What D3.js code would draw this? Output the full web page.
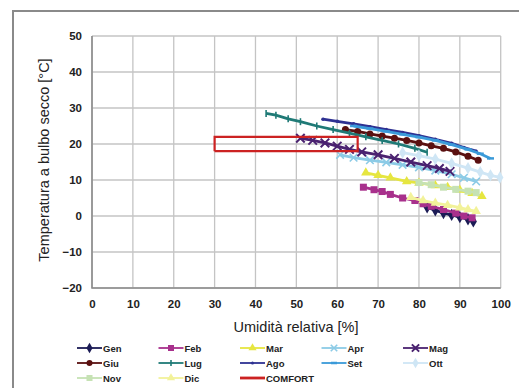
<!DOCTYPE html>
<html>
<head>
<meta charset="utf-8">
<script src="https://cdn.jsdelivr.net/npm/d3@7"></script>
<style>
  body { margin: 0; background: #fff; }
  svg { display: block; font-family: Arial, "Liberation Sans", sans-serif; }
</style>
</head>
<body>
<svg id="chart" width="519" height="388"></svg>
<script>
// values: [umidità %, temperatura °C]
const gen = [[82, 2.4], [84, 1.6], [86, 0.8], [88, 0.3], [90, -0.3], [92, -0.9], [93.3, -1.5]];
const feb = [[66.4, 8], [69, 7.3], [71, 6.8], [73, 6], [76, 5], [79, 4.3], [81, 3.4], [83, 2.7], [86, 1.8], [89, 0.8], [91, 0], [93, -0.5]];
const mar = [[67, 12], [70, 11.3], [73, 10.6], [77, 9.6], [80, 9.2], [84, 8.5], [87, 8], [90, 7.2], [93, 6.3], [95.4, 5.5]];
const apr = [[60.7, 17], [64, 16.2], [68, 15.5], [72, 14.9], [76, 14.2], [80, 13.5], [84, 12.6], [88, 11.6], [91, 10.6], [94, 9.6]];
const mag = [[51, 21.6], [54, 21], [57, 20.3], [60, 19.4], [63, 18.5], [66, 17.8], [70, 17], [74, 16], [78, 15], [82, 14], [85, 13.2], [87.6, 12.4]];
const giu = [[62, 24], [65, 23.5], [68, 22.8], [71, 22.2], [74, 21.6], [77, 21], [80, 20.3], [83, 19.5], [86, 18.8], [89, 17.8], [92, 16.6], [94.5, 15.5]];
const lug = [[42.6, 28.5], [45, 28], [48, 27], [51, 26.2], [55, 25], [59, 24], [63, 23], [67, 22], [71, 21], [75, 20], [79, 18.8], [82, 17.7]];
const ago = [[56.5, 26.9], [60, 26.3], [64, 25.6], [68, 24.8], [72, 24], [76, 23.2], [80, 22.3], [84, 21.3], [88, 20.2], [91, 19], [94, 18]];
const set = [[64, 25], [68, 24.3], [72, 23.5], [76, 22.7], [80, 21.9], [84, 21], [88, 19.8], [92, 18.5], [95, 17.3], [97.5, 16]];
const ott = [[76, 17.6], [80, 16.8], [84, 15.8], [88, 14.6], [92, 13.3], [95, 12.2], [97.5, 11.3], [99.8, 10.7]];
const nov = [[80, 9.3], [83, 8.7], [86, 8], [89, 7.4], [92, 6.9], [94, 6.5]];
const dic = [[78, 5.2], [81, 4.3], [84, 3.6], [87, 3], [90, 2.3], [92, 1.8], [94, 1.3]];
const comfort = [[30, 18], [65, 18], [65, 22], [30, 22], [30, 18]];

const monthNames = ["Gen", "Feb", "Mar", "Apr", "Mag", "Giu", "Lug", "Ago", "Set", "Ott", "Nov", "Dic"];
const monthData = [gen, feb, mar, apr, mag, giu, lug, ago, set, ott, nov, dic];
const monthColors = ["#1b1b55", "#a8308c", "#e6e640", "#8ccbe6", "#4a2270", "#5a1010", "#1f7a76", "#2e3192", "#3a9ad9", "#cfe6f5", "#c6e2b4", "#f2f29a"];
const monthMarkers = ["diamond", "square", "triangle", "x", "star", "circle", "plus", "dot", "dash", "diamond", "square", "triangle"];

const xTicks = [0, 10, 20, 30, 40, 50, 60, 70, 80, 90, 100];
const yTicks = [-20, -10, 0, 10, 20, 30, 40, 50];

const svg = d3.select("#chart");

// outer frame
svg.append("path")
  .attr("d", "M13,388 L13,11 L519,11")
  .attr("fill", "none")
  .attr("stroke", "#8a8a8a")
  .attr("stroke-width", 2);

const x = d3.scaleLinear().domain([0, 100]).range([92, 500.7]);
const y = d3.scaleLinear().domain([-20, 50]).range([288, 36]);

// grid
svg.append("g")
  .selectAll("line")
  .data(xTicks)
  .join("line")
  .attr("x1", (d) => x(d)).attr("x2", (d) => x(d))
  .attr("y1", y(50)).attr("y2", y(-20))
  .attr("stroke", "#c4c4c4")
  .attr("stroke-width", 1.3);

svg.append("g")
  .selectAll("line")
  .data(yTicks)
  .join("line")
  .attr("x1", x(0)).attr("x2", x(100))
  .attr("y1", (d) => y(d)).attr("y2", (d) => y(d))
  .attr("stroke", "#c4c4c4")
  .attr("stroke-width", 1.3);

svg.append("path")
  .attr("d", `M${x(0)},${y(50)} L${x(0)},${y(-20)} L${x(100)},${y(-20)}`)
  .attr("fill", "none")
  .attr("stroke", "#8a8a8a")
  .attr("stroke-width", 1.6);

// tick labels
const xAxis = svg.append("g")
  .attr("transform", `translate(0,${y(-20)})`)
  .call(d3.axisBottom(x).tickValues(xTicks).tickSize(0).tickPadding(12));
const yAxis = svg.append("g")
  .attr("transform", `translate(${x(0)},0)`)
  .call(d3.axisLeft(y).tickValues(yTicks).tickSize(0).tickPadding(10));
[xAxis, yAxis].forEach((a) => {
  a.select(".domain").remove();
  a.selectAll("text")
    .attr("font-family", "Arial, 'Liberation Sans', sans-serif")
    .attr("font-size", 11.5)
    .attr("font-weight", "bold")
    .attr("fill", "#222");
});

// axis titles
svg.append("text")
  .attr("x", 296).attr("y", 332)
  .attr("text-anchor", "middle")
  .attr("font-size", 14.5)
  .attr("fill", "#222")
  .text("Umidità relativa [%]");

svg.append("text")
  .attr("transform", "translate(49,160) rotate(-90)")
  .attr("text-anchor", "middle")
  .attr("font-size", 14.5)
  .attr("fill", "#222")
  .text("Temperatura a bulbo secco [°C]");

// markers
function drawMarker(g, type, color, size) {
  const s = size;
  if (type === "diamond") {
    g.append("path").attr("d", d3.symbol(d3.symbolDiamond, s * s * 0.9)()).attr("fill", color);
  } else if (type === "square") {
    g.append("rect").attr("x", -s / 2).attr("y", -s / 2).attr("width", s).attr("height", s).attr("fill", color);
  } else if (type === "triangle") {
    g.append("path").attr("d", d3.symbol(d3.symbolTriangle, s * s * 0.8)()).attr("fill", color);
  } else if (type === "circle") {
    g.append("circle").attr("r", s / 2).attr("fill", color);
  } else if (type === "dot") {
    g.append("circle").attr("r", s / 4).attr("fill", color);
  } else if (type === "x") {
    g.append("path").attr("d", d3.symbol(d3.symbolTimes, s * s * 0.8)()).attr("fill", "none").attr("stroke", color).attr("stroke-width", 1.6);
  } else if (type === "star") {
    g.append("path").attr("d", d3.symbol(d3.symbolTimes, s * s)()).attr("fill", "none").attr("stroke", color).attr("stroke-width", 2);
    g.append("rect").attr("x", -1.5).attr("y", -1.5).attr("width", 3).attr("height", 3).attr("fill", color);
  } else if (type === "plus") {
    g.append("path").attr("d", `M0,${-s / 2}V${s / 2}`).attr("stroke", color).attr("stroke-width", 1.6);
  } else if (type === "dash") {
    g.append("path").attr("d", `M${-s / 2},0H${s / 2}`).attr("stroke", color).attr("stroke-width", 2.5);
  }
}

const line = d3.line().x((d) => x(d[0])).y((d) => y(d[1]));

const series = svg.append("g");
monthData.forEach((data, i) => {
  const g = series.append("g");
  g.append("path")
    .datum(data)
    .attr("d", line)
    .attr("fill", "none")
    .attr("stroke", monthColors[i])
    .attr("stroke-width", 2.8);
  g.selectAll("g")
    .data(data)
    .join("g")
    .attr("transform", (d) => `translate(${x(d[0])},${y(d[1])})`)
    .each(function () { drawMarker(d3.select(this), monthMarkers[i], monthColors[i], 7); });
});

svg.append("path")
  .datum(comfort)
  .attr("d", line)
  .attr("fill", "none")
  .attr("stroke", "#cc2222")
  .attr("stroke-width", 2.2);

// legend
const legendItems = monthNames.map((n, i) => ({ name: n, color: monthColors[i], marker: monthMarkers[i] }));
legendItems.push({ name: "COMFORT", color: "#cc2222", marker: null });

const legend = svg.append("g");
legendItems.forEach((item, i) => {
  const col = i % 5, row = Math.floor(i / 5);
  const lx = 77 + col * 81.5, ly = 348 + row * 15;
  const g = legend.append("g").attr("transform", `translate(${lx},${ly})`);
  g.append("line")
    .attr("x1", 0).attr("x2", 25)
    .attr("stroke", item.color)
    .attr("stroke-width", item.marker ? 1.8 : 2.8);
  if (item.marker) {
    const m = g.append("g").attr("transform", "translate(12.5,0)");
    drawMarker(m, item.marker, item.color, 6);
  }
  g.append("text")
    .attr("x", 26).attr("y", 3.5)
    .attr("font-size", 9.5)
    .attr("font-weight", "bold")
    .attr("fill", "#222")
    .text(item.name);
});
</script>
</body>
</html>
